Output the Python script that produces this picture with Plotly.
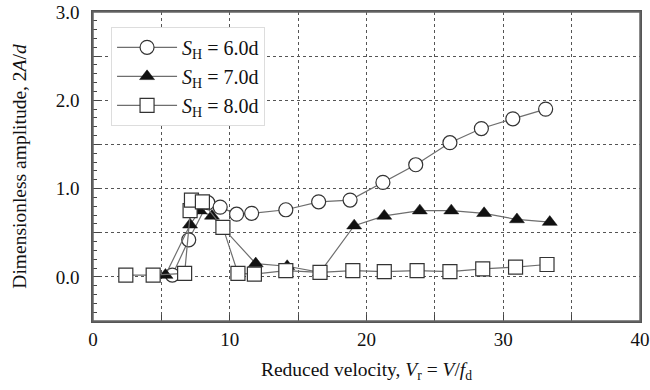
import plotly.graph_objects as go

# S_H = 6.0d (open circles)
x6 = [5.8, 7.0, 8.4, 9.3, 10.5, 11.6, 14.1, 16.5, 18.8, 21.2, 23.6, 26.1, 28.4, 30.7, 33.1]
y6 = [0.02, 0.42, 0.84, 0.79, 0.71, 0.72, 0.76, 0.85, 0.87, 1.07, 1.27, 1.52, 1.68, 1.79, 1.90]
# S_H = 7.0d (filled triangles)
x7 = [5.3, 7.1, 7.8, 8.7, 11.9, 14.2, 16.6, 19.1, 21.3, 23.9, 26.2, 28.6, 31.0, 33.4]
y7 = [0.02, 0.59, 0.75, 0.69, 0.15, 0.12, 0.05, 0.58, 0.69, 0.75, 0.75, 0.72, 0.65, 0.62]
# S_H = 8.0d (open squares)
x8 = [2.4, 4.4, 6.7, 7.1, 7.2, 8.0, 9.5, 10.6, 11.8, 14.1, 16.6, 19.0, 21.3, 23.7, 26.1, 28.5, 30.9, 33.2]
y8 = [0.02, 0.02, 0.04, 0.75, 0.87, 0.85, 0.56, 0.04, 0.03, 0.07, 0.05, 0.07, 0.06, 0.07, 0.06, 0.09, 0.11, 0.14]

labels = ["<i>S</i><sub>H</sub> = 6.0d", "<i>S</i><sub>H</sub> = 7.0d", "<i>S</i><sub>H</sub> = 8.0d"]
y_tickvals = [-0.5, 0.0, 0.5, 1.0, 1.5, 2.0, 2.5, 3.0]
y_ticktext = ["", "0.0", "", "1.0", "", "2.0", "", "3.0"]
x_tickvals = [0, 5, 10, 15, 20, 25, 30, 35, 40]
x_ticktext = ["0", "", "10", "", "20", "", "30", "", "40"]

LINE = "#6e6e6e"
fig = go.Figure()
fig.add_trace(go.Scatter(x=x6, y=y6, name=labels[0], mode="lines+markers",
                         line=dict(color=LINE, width=1.2),
                         marker=dict(symbol="circle", size=14, color="white",
                                     line=dict(color="#333", width=1.2))))
fig.add_trace(go.Scatter(x=x7, y=y7, name=labels[1], mode="lines+markers",
                         line=dict(color=LINE, width=1.2),
                         marker=dict(symbol="triangle-up", size=13, color="#111",
                                     line=dict(color="#111", width=0.5))))
fig.add_trace(go.Scatter(x=x8, y=y8, name=labels[2], mode="lines+markers",
                         line=dict(color=LINE, width=1.2),
                         marker=dict(symbol="square", size=14, color="white",
                                     line=dict(color="#333", width=1.2))))

FONT = "Liberation Serif"
fig.update_layout(
    width=650, height=390,
    margin=dict(l=93, r=10, t=12, b=69),
    paper_bgcolor="white", plot_bgcolor="white",
    font=dict(family=FONT, size=19, color="#111"),
    showlegend=True,
    legend=dict(x=0.033, y=0.952, xanchor="left", yanchor="top",
                bgcolor="white", bordercolor="#dddddd", borderwidth=1,
                font=dict(family=FONT, size=20, color="#111"),
                itemwidth=60, tracegroupgap=0),
    xaxis=dict(range=[0, 40], tickvals=x_tickvals, ticktext=x_ticktext,
               automargin=False, ticklabeloverflow="allow",
               showgrid=True, gridcolor="#555", griddash="dot", gridwidth=1,
               ticks="inside", ticklen=6, tickcolor="#444",
               showline=True, linecolor="#555", linewidth=1.5, mirror=True,
               zeroline=False,
               title=dict(text="Reduced velocity, <i>V</i><sub>r</sub> = <i>V</i>/<i>f</i><sub>d</sub>",
                          font=dict(family=FONT, size=19.5), standoff=14)),
    yaxis=dict(range=[-0.5, 3.0], tickvals=y_tickvals, ticktext=y_ticktext,
               automargin=False, ticklabelstandoff=8, ticklabeloverflow="allow",
               showgrid=True, gridcolor="#555", griddash="dot", gridwidth=1,
               ticks="inside", ticklen=7, tickcolor="#444",
               minor=dict(dtick=0.1, ticks="inside", ticklen=4, tickcolor="#444", showgrid=False),
               showline=True, linecolor="#555", linewidth=1.5, mirror=True,
               zeroline=False,
               title=dict(text="Dimensionless amplitude, 2<i>A</i>/<i>d</i>",
                          font=dict(family=FONT, size=19.5), standoff=24)),
    shapes=[dict(type="rect", xref="x domain", yref="y domain", x0=0, x1=1, y0=0, y1=1,
                 line=dict(color="#666", width=1.5), layer="above")],
)
fig.write_html("out.html", config={"displayModeBar": False},
               post_script="document.body.style.margin='0';")
